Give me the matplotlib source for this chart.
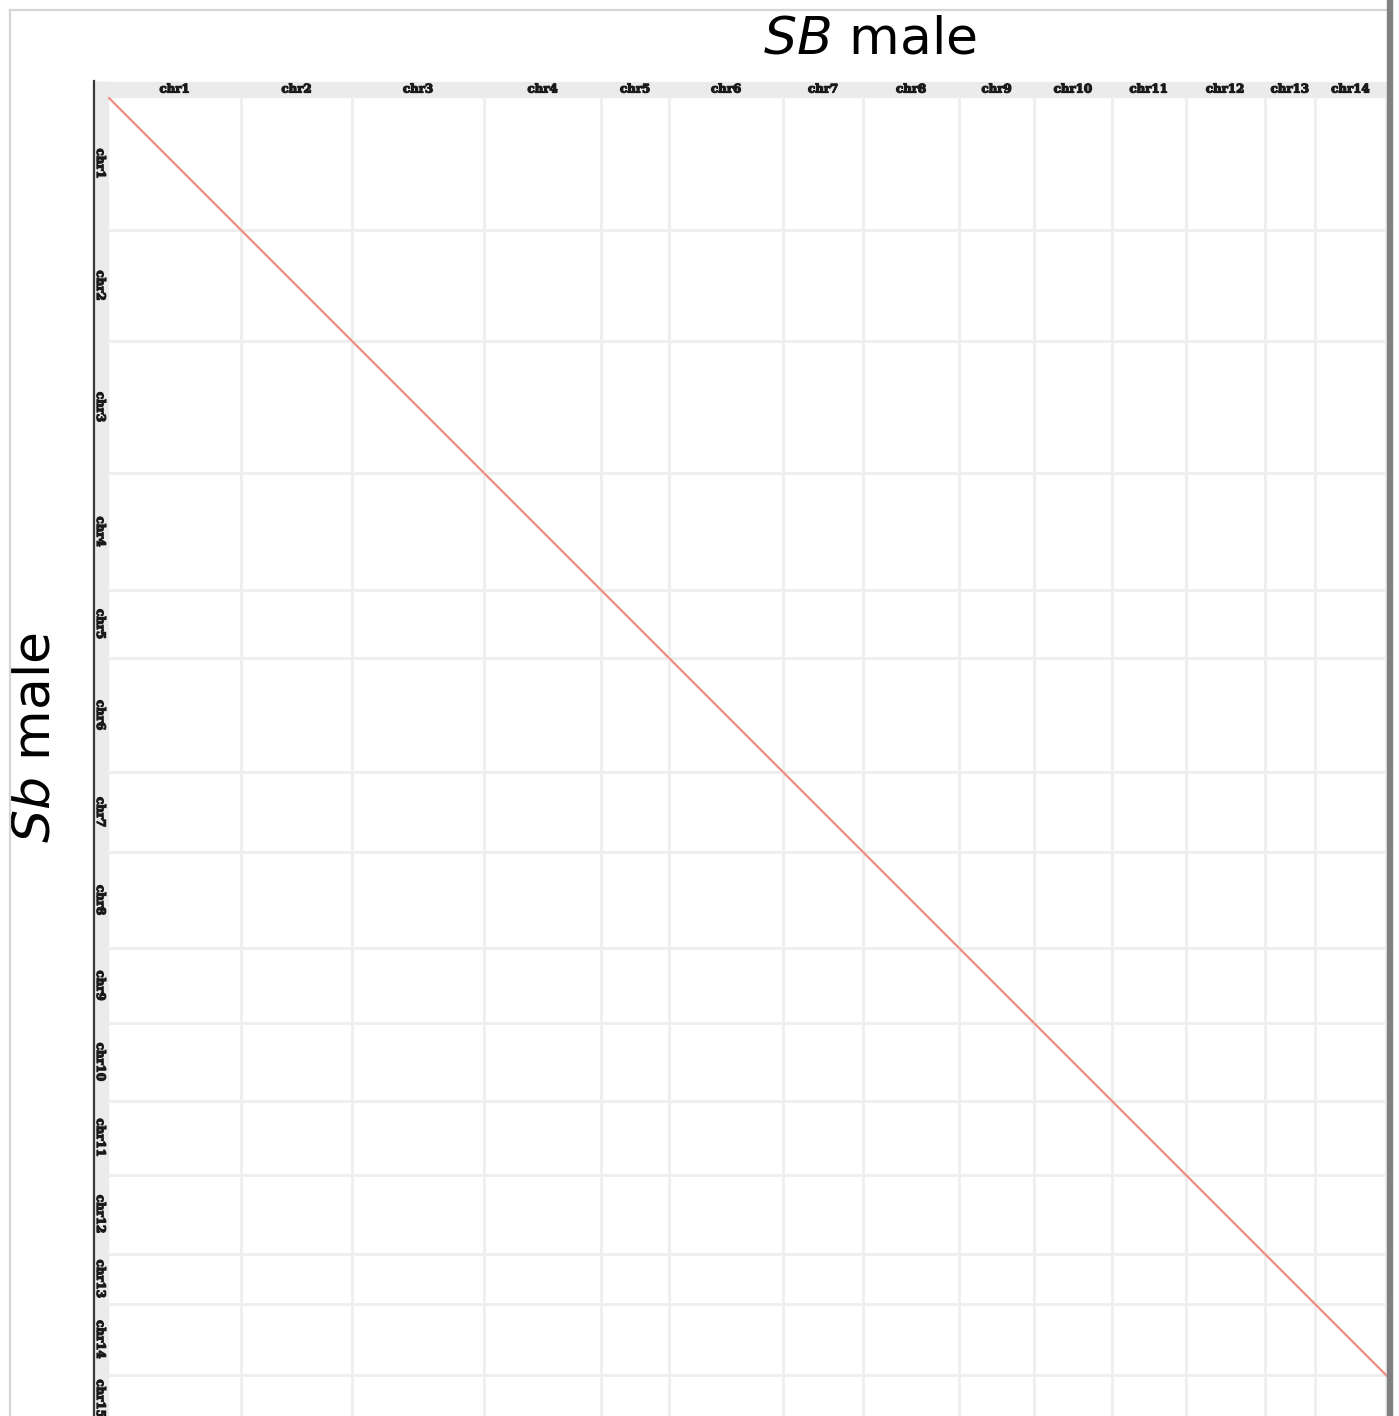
import numpy as np
import matplotlib
matplotlib.use("Agg")
import matplotlib.pyplot as plt
import matplotlib.transforms as mtransforms
import matplotlib.patheffects as pe
from matplotlib.patches import Rectangle
from matplotlib.lines import Line2D


# cromosomas y longitudes (Mb)
cromosomas = ["chr1", "chr2", "chr3", "chr4", "chr5", "chr6", "chr7", "chr8",
              "chr9", "chr10", "chr11", "chr12", "chr13", "chr14", "chr15"]
longitudes = [26.6, 22.2, 26.4, 23.4, 13.6, 22.8, 16.0, 19.2,
              15.0, 15.5, 14.8, 15.8, 10.1, 14.1, 9.6]

titulo_x = "SB"
titulo_y = "Sb"


W, H = 1399, 1416
fig = plt.figure(figsize=(W / 100, H / 100), dpi=100)

fin = np.cumsum(longitudes)
inicio = fin - np.array(longitudes)
total = fin[-1]

# escala de pixeles por Mb
px_mb = 5.0
x0, y0 = 108, 97
lado = total * px_mb

ax = fig.add_axes([x0 / W, 1 - (y0 + lado) / H, lado / W, lado / H])
ax.set_xlim(0, total)
ax.set_ylim(total, 0)
ax.set_axis_off()

# separacion entre paneles
for b in fin:
    ax.axvline(b, color="#efefef", lw=2.2, zorder=1)
    ax.axhline(b, color="#efefef", lw=2.2, zorder=1)

# alineamiento de cada cromosoma consigo mismo
for s, e in zip(inicio, fin):
    ax.plot([s, e], [s, e], color="#f28b84", lw=1.6,
            solid_capstyle="butt", zorder=2)

# tiras de etiquetas
fig.add_artist(Rectangle((93 / W, 1 - 97 / H), 1, 15 / H,
                         transform=fig.transFigure, color="#ebebeb", zorder=0))
fig.add_artist(Rectangle((93 / W, 0), 15 / W, 1 - 82 / H,
                         transform=fig.transFigure, color="#ebebeb", zorder=0))

centros = (inicio + fin) / 2
trans_top = mtransforms.blended_transform_factory(ax.transData, fig.transFigure)
trans_left = mtransforms.blended_transform_factory(fig.transFigure, ax.transData)
grueso = [pe.withStroke(linewidth=0.9, foreground="#1a1a1a")]

for nombre, c in zip(cromosomas, centros):
    ax.text(c, 1 - 89 / H, nombre, transform=trans_top, ha="center", va="center",
            fontsize=8.5, fontweight="bold", family="DejaVu Serif",
            color="#1a1a1a", clip_on=False, path_effects=grueso)
    ax.text(100.5 / W, c, nombre, transform=trans_left, ha="center", va="center",
            rotation=-90, fontsize=8.5, fontweight="bold", family="DejaVu Serif",
            color="#1a1a1a", clip_on=False, path_effects=grueso)

# eje izquierdo
fig.add_artist(Line2D([93.5 / W, 93.5 / W], [0, 1 - 81 / H],
                      color="#3a3a3a", lw=1.6, zorder=5))

# marco exterior
fig.add_artist(Line2D([10 / W, 1387 / W], [1 - 10 / H, 1 - 10 / H],
                      color="#d6d6d6", lw=1.6, zorder=5))
fig.add_artist(Line2D([10 / W, 10 / W], [0, 1 - 10 / H],
                      color="#d6d6d6", lw=1.6, zorder=5))
fig.add_artist(Rectangle((1392 / W, 0), 7 / W, 1, transform=fig.transFigure,
                         color="white", zorder=10))
fig.add_artist(Rectangle((1387 / W, 0), 5 / W, 1, transform=fig.transFigure,
                         color="#808080", zorder=11))

# titulos
fig.text(870 / W, 1 - 53 / H, r"$\mathit{" + titulo_x + "}$ male",
         fontsize=37.5, ha="center", va="baseline")
fig.text(36 / W, 1 - 737 / H, r"$\mathit{" + titulo_y + "}$ male",
         fontsize=37.5, rotation=90, ha="center", va="center")

fig.savefig("out.png", dpi=100)
